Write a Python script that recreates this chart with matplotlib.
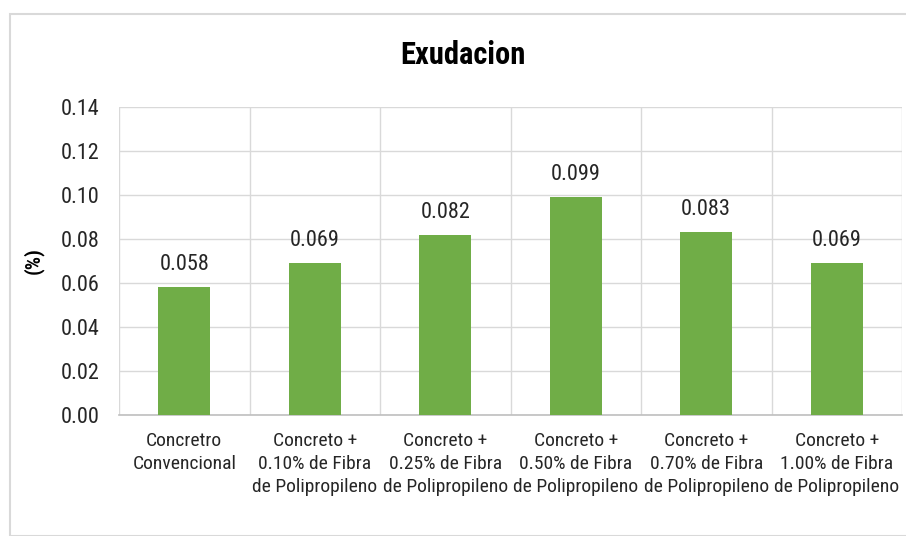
import matplotlib
matplotlib.use("Agg")
import matplotlib.pyplot as plt
from matplotlib.patches import Rectangle
import numpy as np

categories = [
    "Concretro\nConvencional",
    "Concreto +\n0.10% de Fibra\nde Polipropileno",
    "Concreto +\n0.25% de Fibra\nde Polipropileno",
    "Concreto +\n0.50% de Fibra\nde Polipropileno",
    "Concreto +\n0.70% de Fibra\nde Polipropileno",
    "Concreto +\n1.00% de Fibra\nde Polipropileno",
]
values = [0.058, 0.069, 0.082, 0.099, 0.083, 0.069]
value_labels = ["0.058", "0.069", "0.082", "0.099", "0.083", "0.069"]
y_ticks = [0.00, 0.02, 0.04, 0.06, 0.08, 0.10, 0.12, 0.14]

plt.rcParams["font.family"] = ["Roboto Condensed", "DejaVu Sans"]

W, H = 906, 536
fig = plt.figure(figsize=(W / 100, H / 100), dpi=100)

# chart-area frame
fig.patches.append(Rectangle((10 / W, 0), 1.2, 1 - 14 / H, transform=fig.transFigure,
                             fill=False, edgecolor="#D9D9D9", linewidth=1.5, zorder=0))

ax = fig.add_axes([119 / W, 1 - 415 / H, (902 - 119) / W, (415 - 107) / H])
x = np.arange(len(categories))
ax.bar(x, values, width=0.4, color="#70AD47", zorder=3)

for xi, v, lab in zip(x, values, value_labels):
    ax.text(xi, v + 0.0055, lab, ha="center", va="bottom", fontsize=16, color="#262626")

ax.set_xlim(-0.5, len(categories) - 0.5)
ax.set_ylim(0, 0.14)
ax.set_yticks(y_ticks)
ax.set_yticklabels([f"{t:.2f}" for t in y_ticks], fontsize=16, color="#262626")
ax.set_xticks(x)
ax.set_xticklabels(categories, fontsize=14, color="#262626", linespacing=1.38)
ax.tick_params(axis="both", length=0)
ax.tick_params(axis="y", pad=14)
ax.tick_params(axis="x", pad=12)

ax.grid(axis="y", color="#D9D9D9", linewidth=1, zorder=0)
for b in np.arange(-0.5, len(categories) + 0.5, 1):
    ax.axvline(b, color="#D9D9D9", linewidth=1, zorder=0)

for s in ["top", "right", "left"]:
    ax.spines[s].set_visible(False)
ax.spines["bottom"].set_color("#BFBFBF")
ax.spines["bottom"].set_linewidth(1.2)

ax.set_ylabel("(%)", fontsize=15, fontweight="bold", color="#000000", labelpad=12)
fig.text(463 / W, 1 - 55 / H, "Exudacion", ha="center", va="center",
         fontsize=22, fontweight="bold", color="#000000")

fig.savefig("out.png", dpi=100)
